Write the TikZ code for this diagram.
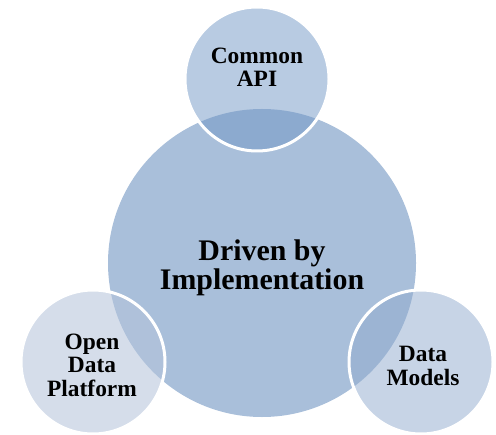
\documentclass[tikz,border=0pt]{standalone}
\usepackage{fontspec}
\setmainfont{Liberation Serif}
\definecolor{hubblue}{RGB}{169,191,218}
\definecolor{apiblue}{RGB}{113,151,197}
\definecolor{odpblue}{RGB}{180,195,218}
\definecolor{dmblue}{RGB}{145,171,206}
\tikzset
{
    hub/.style       = {circle, fill=hubblue, minimum size=308bp, inner sep=0pt},
    satellite/.style = {circle, draw=white, line width=3bp, minimum size=144bp, inner sep=0pt, fill=#1},
    bigtext/.style   = {align=center, font=\bfseries\fontsize{30}{29}\selectfont},
    smalltext/.style = {align=center, font=\bfseries\fontsize{23.5}{23.5}\selectfont}
}
\begin{document}
\begin{tikzpicture}[x=1bp, y=-1bp]
		\useasboundingbox (0,0) rectangle (496,435);
		\node (core)	[hub] 													at (262,263)	{};
		\node (api)		[satellite=apiblue, fill opacity=0.5]		at (257,79)		{};
		\node (odp)		[satellite=odpblue, fill opacity=0.56]	at (93,362)		{};
		\node (dm)		[satellite=dmblue, fill opacity=0.51]		at (421,362)	{};
		\node (coretxt)	[bigtext] 		at (262,268)	{Driven by \\ Implementation};
		\node (apitxt)	[smalltext]		at (257,67)		{Common \\ API};
		\node (odptxt)	[smalltext]		at (92,365)		{Open \\ Data \\ Platform};
		\node (dmtxt)	[smalltext]		at (423,366)	{Data \\ Models};
	\end{tikzpicture}
\end{document}
